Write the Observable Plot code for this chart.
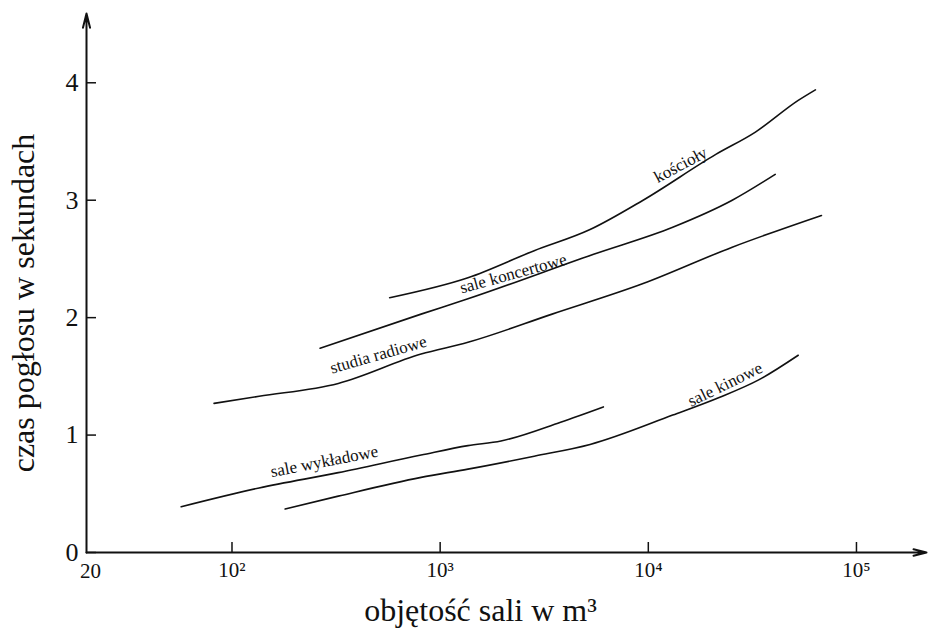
<!DOCTYPE html>
<html><head><meta charset="utf-8">
<script src="https://cdn.jsdelivr.net/npm/d3@7"></script>
<script src="https://cdn.jsdelivr.net/npm/@observablehq/plot@0.6"></script>
<style>html,body{margin:0;padding:0;background:#fff}</style>
</head><body><div id="chart"></div>
<script>
// ---- data ----
const xDomain = [20, 217000];
const yDomain = [0, 4.59];

const kosciolyX   = [572, 1360, 2830, 5250, 9440, 21100, 32700, 52500, 63500];
const kosciolyY   = [2.17, 2.34, 2.57, 2.75, 3.00, 3.39, 3.58, 3.85, 3.94];

const koncertoweX = [265, 810, 1360, 5460, 13100, 25300, 40700];
const koncertoweY = [1.74, 2.03, 2.16, 2.54, 2.77, 3.00, 3.22];

const studiaX     = [82, 135, 324, 810, 1360, 3450, 9440, 25300, 67900];
const studiaY     = [1.27, 1.33, 1.44, 1.69, 1.79, 2.03, 2.29, 2.60, 2.87];

const wykladoweX  = [57, 135, 324, 810, 1360, 1960, 3790, 6080];
const wykladoweY  = [0.39, 0.55, 0.68, 0.83, 0.91, 0.95, 1.11, 1.24];

const kinoweX     = [180, 324, 810, 1360, 2830, 5250, 13100, 21900, 33900, 52500];
const kinoweY     = [0.37, 0.48, 0.64, 0.71, 0.82, 0.92, 1.17, 1.32, 1.47, 1.68];

const labelNames  = ["kościoły", "sale koncertowe", "studia radiowe", "sale wykładowe", "sale kinowe"];
const labelX      = [14700, 2280, 513, 281, 24000];
const labelY      = [3.26, 2.33, 1.64, 0.73, 1.39];

const yTicks      = [0, 1, 2, 3, 4];
const yTickLabels = ["0", "1", "2", "3", "4"];
const xTicks      = [100, 1000, 10000, 100000];
const xTickLabels = ["10²", "10³", "10⁴", "10⁵"];
const originLabel = "20";
const xLabel      = "objętość sali w m³";
const yLabel      = "czas pogłosu w sekundach";

// ---- build table ----
const seriesList = [
  ["kościoły", kosciolyX, kosciolyY],
  ["sale koncertowe", koncertoweX, koncertoweY],
  ["studia radiowe", studiaX, studiaY],
  ["sale wykładowe", wykladoweX, wykladoweY],
  ["sale kinowe", kinoweX, kinoweY]
];
const rows = seriesList.flatMap(([name, xs, ys]) => xs.map((x, i) => ({series: name, x, y: ys[i]})));
const labels = labelNames.map((name, i) => ({name, x: labelX[i], y: labelY[i]}));
const labelAngles = [-28, -15.5, -16, -11, -26];

const font = "'Liberation Serif', 'Times New Roman', 'DejaVu Serif', serif";
const ink = "#111";

const chart = Plot.plot({
  width: 928,
  height: 628,
  marginLeft: 86,
  marginRight: 2,
  marginTop: 13,
  marginBottom: 76,
  style: {fontFamily: font, color: ink, background: "#fff", overflow: "visible"},
  x: {type: "log", domain: xDomain},
  y: {domain: yDomain},
  marks: [
    Plot.axisY({ticks: yTicks, tickFormat: d => yTickLabels[yTicks.indexOf(d)], tickSize: -10, tickPadding: 18, fontSize: 26, label: null, strokeWidth: 1.5, stroke: ink, fill: ink}),
    Plot.axisX({ticks: xTicks, tickFormat: d => xTickLabels[xTicks.indexOf(d)], tickSize: -10, tickPadding: 20, fontSize: 21, label: null, strokeWidth: 1.5, stroke: ink, fill: ink}),
    Plot.arrow([0], {x1: xDomain[0], y1: yDomain[0], x2: xDomain[0], y2: yDomain[1], stroke: ink, strokeWidth: 2, headLength: 11, headAngle: 28}),
    Plot.arrow([0], {x1: xDomain[0], y1: yDomain[0], x2: xDomain[1], y2: yDomain[0], stroke: ink, strokeWidth: 2, headLength: 10, headAngle: 28}),
    Plot.line(rows, {x: "x", y: "y", z: "series", stroke: ink, strokeWidth: 1.6, curve: "monotone-x"}),
    Plot.text(labels, {x: "x", y: "y", text: "name", rotate: (d, i) => labelAngles[i], fontSize: 17, lineAnchor: "bottom", textAnchor: "middle", fill: ink}),
    Plot.text([originLabel], {x: xDomain[0], y: yDomain[0], text: d => d, fontSize: 21, lineAnchor: "top", dy: 11, dx: 4, fill: ink}),
    Plot.text([xLabel], {frameAnchor: "bottom", text: d => d, fontSize: 32, textAnchor: "middle", lineAnchor: "bottom", dy: 68, dx: -26, fill: ink}),
    Plot.text([yLabel], {frameAnchor: "left", text: d => d, rotate: -90, fontSize: 32, textAnchor: "middle", lineAnchor: "bottom", dx: -53, dy: 20, fill: ink})
  ]
});
document.getElementById("chart").appendChild(chart);
</script>
</body></html>
